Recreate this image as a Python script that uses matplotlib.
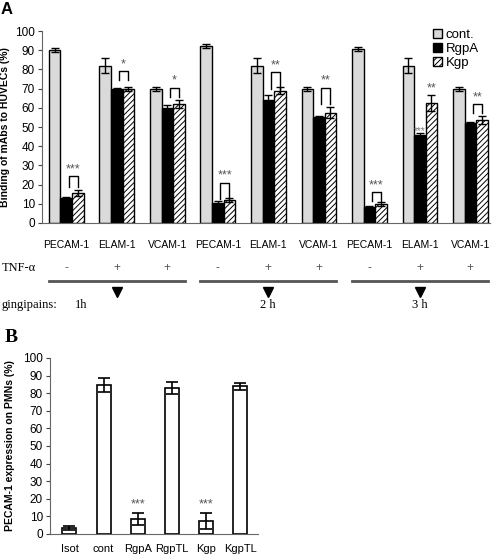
import numpy as np
import matplotlib
matplotlib.use("Agg")
import matplotlib.pyplot as plt
from matplotlib.patches import Patch
from matplotlib.transforms import blended_transform_factory

plt.rcParams['font.family'] = ['Liberation Sans', 'DejaVu Sans']
plt.rcParams['hatch.linewidth'] = 0.7

# ---- panel A data ----
markers = ["PECAM-1", "ELAM-1", "VCAM-1"] * 3
tnf = ["-", "+", "+"] * 3
times = ["1h", "2 h", "3 h"]
series = ["cont.", "RgpA", "Kgp"]
cont = [90, 82, 70, 92, 82, 70, 90.5, 82, 70]
cont_err = [1, 4, 1, 1, 4, 1, 1, 4, 1]
rgpa = [13, 70, 60, 10.5, 64, 55, 8.5, 46, 52]
rgpa_err = [0.8, 0.5, 1.5, 0.8, 2.5, 0.5, 0.5, 1, 0.5]
kgp = [15.5, 70, 62, 12, 69, 57.5, 10, 62.5, 53.5]
kgp_err = [1.5, 1, 2, 1, 2, 3, 1, 4, 2]
# significance brackets (group index, label, bracket top, leg bottom)
brk_group = [0, 1, 2, 3, 4, 5, 6, 8]
brk_label = ["***", "*", "*", "***", "**", "**", "***", "**"]
brk_top = [24.5, 79, 70.5, 21, 78.6, 70.5, 16, 62]
brk_low = [19, 74.5, 65.5, 12.5, 70, 62, 11.5, 57.5]

# ---- panel B data ----
b_cats = ["Isot", "cont", "RgpA", "RgpTL", "Kgp", "KgpTL"]
b_vals = [3.5, 84.5, 8.5, 83, 7.5, 84]
b_err = [1, 4, 3.5, 3.5, 4.5, 2]
b_sig = ["", "", "***", "", "***", ""]

W, H = 496, 560
fig = plt.figure(figsize=(W / 100, H / 100), dpi=100)

def rect(l, t, r, b):
    return [l / W, 1 - b / H, (r - l) / W, (b - t) / H]

# ================= panel A =================
ax = fig.add_axes(rect(42, 31, 490, 223))
w = 0.228
x = np.arange(len(cont))
ekw = dict(ecolor="black", elinewidth=1, capsize=3, capthick=1)
ax.bar(x - w, cont, w, yerr=cont_err, color="#dadada", edgecolor="black", linewidth=1, error_kw=ekw)
ax.bar(x, rgpa, w, yerr=rgpa_err, color="black", edgecolor="black", linewidth=1, error_kw=ekw)
ax.bar(x + w, kgp, w, yerr=kgp_err, color="white", edgecolor="black", hatch="//////", linewidth=1, error_kw=ekw)

ax.set_ylim(0, 100)
ax.set_xlim(-0.48, 8.39)
ax.set_yticks(range(0, 101, 10))
ax.tick_params(axis="y", labelsize=8.5, length=3, width=0.8, pad=2, colors="#444444", labelcolor="black")
ax.set_xticks(x)
ax.set_xticklabels(markers, fontsize=7.5)
ax.tick_params(axis="x", length=0, pad=12)
for s in ["top", "right"]:
    ax.spines[s].set_visible(False)
for s in ["left", "bottom"]:
    ax.spines[s].set_color("#666666")
ax.set_ylabel("Binding of mAbs to HUVECs (%)", fontsize=7.5, fontweight="bold")
ax.yaxis.set_label_coords(-(42 - 10) / 448, 0.5)

star_kw = dict(ha="center", va="bottom", fontsize=9, color="#555555")
for g, lab, top, low in zip(brk_group, brk_label, brk_top, brk_low):
    xl = x[g] + 0.2 * w
    xr = x[g] + w
    ax.plot([xl, xl, xr, xr], [low, top, top, low], color="black", lw=1)
    ax.text((xl + xr) / 2, top + 0.5, lab, **star_kw)
# ELAM-1, 3h: stars without bracket
ax.text(x[7] + w, kgp[7] + kgp_err[7] + 0.5, "**", **star_kw)
ax.text(x[7], rgpa[7] - 0.5, "***", ha="center", va="bottom", fontsize=7, color="#777777")

ax.legend(handles=[Patch(facecolor="#dadada", edgecolor="black", label=series[0]),
                   Patch(facecolor="black", edgecolor="black", label=series[1]),
                   Patch(facecolor="white", edgecolor="black", hatch="//////", label=series[2])],
          loc="upper left", bbox_to_anchor=(0.86, 1.04), frameon=False, fontsize=9.5,
          handlelength=0.7, handleheight=0.7, handletextpad=0.3, labelspacing=0.15, borderaxespad=0)

tr = blended_transform_factory(ax.transData, fig.transFigure)
def fy(py):
    return 1 - py / H

serif = ['Liberation Serif', 'DejaVu Serif']
fig.text(2 / W, fy(268), "TNF-\u03b1", family=serif, fontsize=9, va="center")
for i, t in enumerate(tnf):
    ax.text(x[i], fy(268), t, transform=tr, ha="center", va="center", fontsize=8.5, color="#555555")
fig.text(2 / W, fy(305), "gingipains:", family=serif, fontsize=9, va="center")
for k, lab in enumerate(times):
    g0 = 3 * k
    ax.plot([x[g0] - 1.5 * w, x[g0 + 2] + 1.5 * w], [fy(281), fy(281)], transform=tr,
            color="#555555", lw=2, clip_on=False)
    ax.plot([x[g0 + 1]], [fy(292)], transform=tr, marker="v", color="black", markersize=6.5, clip_on=False)
    xt = x[g0] + 0.3 if k == 0 else x[g0 + 1]
    ax.text(xt, fy(305), lab, transform=tr, ha="center", va="center", family=serif, fontsize=9)

fig.text(1 / W, fy(9), "A", fontsize=12, fontweight="bold", va="center")

# ================= panel B =================
bx = fig.add_axes(rect(50, 358, 258, 534))
xb = np.arange(len(b_cats))
bx.bar(xb, b_vals, 0.41, yerr=b_err, color="white", edgecolor="black", linewidth=1.2,
       error_kw=dict(ecolor="black", elinewidth=1.2, capsize=4, capthick=1.2))
for i, s in enumerate(b_sig):
    if s:
        bx.text(xb[i], b_vals[i] + b_err[i] + 1.5, s, **star_kw)
bx.set_ylim(0, 100)
bx.set_xlim(-0.57, 5.52)
bx.set_yticks(range(0, 101, 10))
bx.tick_params(axis="y", labelsize=8.5, length=3, width=0.8, pad=2, colors="#444444", labelcolor="black")
bx.set_xticks(xb)
bx.set_xticklabels(b_cats, fontsize=8)
bx.tick_params(axis="x", length=0, pad=7)
for s in ["top", "right"]:
    bx.spines[s].set_visible(False)
for s in ["left", "bottom"]:
    bx.spines[s].set_color("#666666")
bx.set_ylabel("PECAM-1 expression on PMNs (%)", fontsize=7.5, fontweight="bold")
bx.yaxis.set_label_coords(-(50 - 15) / 208, 0.5)
fig.text(5 / W, fy(337), "B", family=serif, fontsize=14, fontweight="bold", va="center")

fig.savefig("out.png", dpi=100)
